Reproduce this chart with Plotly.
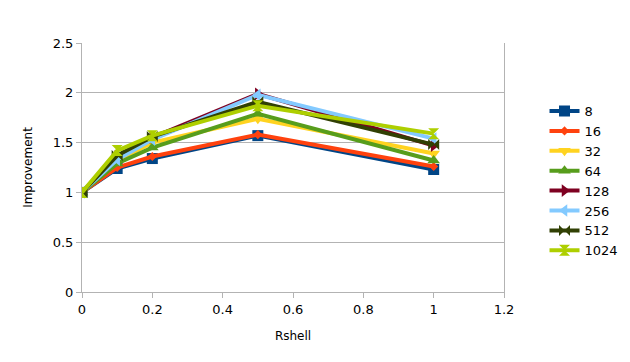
import plotly.graph_objects as go

rshell = [0, 0.1, 0.2, 0.5, 1.0]
names = ["8", "16", "32", "64", "128", "256", "512", "1024"]
s8 = [1.0, 1.24, 1.34, 1.57, 1.23]
s16 = [1.0, 1.25, 1.36, 1.58, 1.26]
s32 = [1.0, 1.32, 1.50, 1.74, 1.39]
s64 = [1.0, 1.29, 1.45, 1.79, 1.32]
s128 = [1.0, 1.36, 1.55, 1.99, 1.47]
s256 = [1.0, 1.33, 1.53, 1.98, 1.54]
s512 = [1.0, 1.37, 1.56, 1.91, 1.48]
s1024 = [1.0, 1.42, 1.57, 1.87, 1.59]
series = [s8, s16, s32, s64, s128, s256, s512, s1024]

colors = ["#004586", "#ff420e", "#ffd320", "#579d1c", "#7e0021", "#83caff", "#314004", "#aecf00"]
symbols = ["square", "diamond", "triangle-down", "triangle-up", "triangle-right", "triangle-left", "bowtie", "hourglass"]
sizes = [11, 7, 11, 11, 11, 11, 11, 11]

fig = go.Figure()
for n, s, c, m, sz in zip(names, series, colors, symbols, sizes):
    fig.add_trace(go.Scatter(
        x=rshell, y=s, name=n, mode="lines+markers",
        line=dict(color=c, width=4),
        marker=dict(symbol=m, size=sz, color=c),
    ))

fig.update_layout(
    width=622, height=354,
    margin=dict(l=74, r=126, t=35, b=70, autoexpand=False),
    paper_bgcolor="white", plot_bgcolor="white",
    font=dict(family="DejaVu Sans", size=12, color="black"),
    legend=dict(x=1.096, xanchor="left", y=0.787, yanchor="top",
                font=dict(size=13), tracegroupgap=0, itemwidth=30),
    showlegend=True,
)
fig.update_xaxes(
    range=[0, 1.2], tickvals=[0, 0.2, 0.4, 0.6, 0.8, 1, 1.2],
    ticktext=["0", "0.2", "0.4", "0.6", "0.8", "1", "1.2"],
    tickfont=dict(size=13),
    showgrid=False, zeroline=False, showline=True, linecolor="#b3b3b3", linewidth=1,
    ticks="outside", ticklen=5, tickcolor="#b3b3b3", automargin=False,
    title=dict(text="Rshell", font=dict(size=12), standoff=16),
)
fig.update_yaxes(
    range=[0, 2.5], tickvals=[0, 0.5, 1, 1.5, 2, 2.5],
    ticktext=["0", "0.5", "1", "1.5", "2", "2.5"],
    tickfont=dict(size=13),
    showgrid=True, gridcolor="#b3b3b3", zeroline=False,
    showline=True, linecolor="#b3b3b3", linewidth=1, mirror=True,
    ticks="outside", ticklen=5, tickcolor="#b3b3b3", automargin=False,
    title=dict(text="Improvement", font=dict(size=12), standoff=17),
)

fig.write_html("out.html")
